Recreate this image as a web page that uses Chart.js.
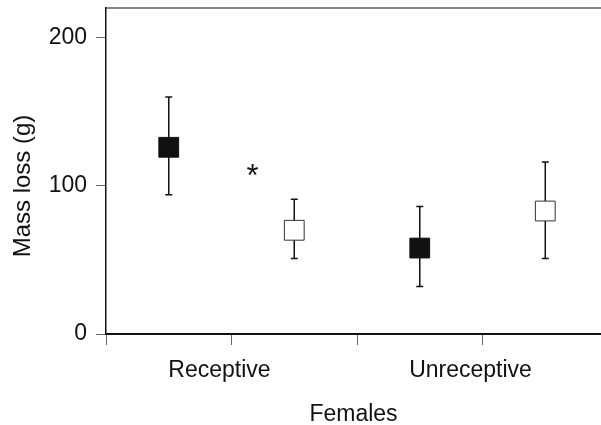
<!DOCTYPE html>
<html>
<head>
<meta charset="utf-8">
<script src="https://cdn.jsdelivr.net/npm/chart.js@4/dist/chart.umd.min.js"></script>
<style>
  html, body { margin: 0; padding: 0; background: #fff; }
  #wrap { width: 601px; height: 425px; position: relative; }
</style>
</head>
<body>
<div id="wrap"><canvas id="massChart" width="601" height="425"></canvas></div>
<script>
const categories = ["Receptive", "Unreceptive"];
// filled squares
const filledMean = [126, 58];
const filledLow = [94, 32];
const filledHigh = [160, 86];
// open squares
const openMean = [70, 83];
const openLow = [51, 51];
const openHigh = [91, 116];
const yTicks = [0, 100, 200];
const xTicks = [0, 1, 2, 3];
const sigMark = { text: "*", x: 1.167, y: 112 };

const FONT = "'Liberation Sans', Arial, Helvetica, sans-serif";
const ink = "#111";

const toPoints = (means, lo, hi, shift) =>
  means.map((m, i) => ({ x: i * 2 + shift, y: m, lo: lo[i], hi: hi[i] }));

const errorBars = {
  id: "errorBars",
  beforeDatasetsDraw(chart) {
    const { ctx, scales: { x, y } } = chart;
    ctx.save();
    ctx.strokeStyle = ink;
    ctx.lineWidth = 1.5;
    chart.data.datasets.forEach((ds) => {
      ds.data.forEach((p) => {
        const px = x.getPixelForValue(p.x);
        const top = y.getPixelForValue(p.hi);
        const bot = y.getPixelForValue(p.lo);
        ctx.beginPath();
        ctx.moveTo(px, top);
        ctx.lineTo(px, bot);
        ctx.moveTo(px - 3.5, top);
        ctx.lineTo(px + 3.5, top);
        ctx.moveTo(px - 3.5, bot);
        ctx.lineTo(px + 3.5, bot);
        ctx.stroke();
      });
    });
    ctx.restore();
  },
  afterDraw(chart) {
    const { ctx, chartArea, scales: { x, y } } = chart;
    ctx.save();
    // top frame line
    ctx.strokeStyle = ink;
    ctx.lineWidth = 1.2;
    ctx.beginPath();
    ctx.moveTo(chartArea.left, chartArea.top);
    ctx.lineTo(chartArea.right, chartArea.top);
    ctx.stroke();
    // significance mark
    ctx.fillStyle = ink;
    ctx.font = "31px " + FONT;
    ctx.textAlign = "center";
    ctx.textBaseline = "alphabetic";
    ctx.fillText(sigMark.text, x.getPixelForValue(sigMark.x), y.getPixelForValue(sigMark.y) + 18);
    // y axis title
    ctx.font = "24px " + FONT;
    ctx.textBaseline = "middle";
    ctx.translate(23, 186);
    ctx.rotate(-Math.PI / 2);
    ctx.fillText("Mass loss (g)", 0, 0);
    ctx.restore();
  }
};

new Chart(document.getElementById("massChart"), {
  type: "scatter",
  data: {
    datasets: [
      {
        data: toPoints(filledMean, filledLow, filledHigh, 0.5),
        pointStyle: "rect",
        pointRadius: 14,
        backgroundColor: ink,
        borderColor: ink,
        borderWidth: 1
      },
      {
        data: toPoints(openMean, openLow, openHigh, 1.5),
        pointStyle: "rect",
        pointRadius: 14,
        backgroundColor: "#fff",
        borderColor: "#333",
        borderWidth: 1
      }
    ]
  },
  options: {
    responsive: false,
    animation: false,
    layout: { autoPadding: false, padding: { top: 8, right: 0, left: 0, bottom: 0 } },
    plugins: { legend: { display: false }, tooltip: { enabled: false } },
    scales: {
      x: {
        type: "linear",
        min: 0,
        max: 3.944,
        afterBuildTicks: (scale) => { scale.ticks = xTicks.map((v) => ({ value: v })); },
        afterFit: (scale) => { scale.height = 91; scale.paddingLeft = 0; scale.paddingRight = 0; },
        border: { display: true, color: ink, width: 2 },
        grid: { drawOnChartArea: false, drawTicks: true, tickLength: 11, tickColor: "#666", tickWidth: 1 },
        ticks: {
          autoSkip: false,
          maxRotation: 0,
          padding: 12,
          labelOffset: -12,
          color: ink,
          font: { family: FONT, size: 23 },
          callback: (v) => (v === 1 ? categories[0] : v === 3 ? categories[1] : "")
        },
        title: {
          display: true,
          text: "Females",
          color: ink,
          font: { family: FONT, size: 23 },
          padding: { top: 0, bottom: -3 }
        }
      },
      y: {
        min: 0,
        max: 220,
        afterBuildTicks: (scale) => { scale.ticks = yTicks.map((v) => ({ value: v })); },
        afterFit: (scale) => { scale.width = 106; scale.paddingTop = 0; scale.paddingBottom = 0; },
        border: { display: true, color: ink, width: 1.5 },
        grid: { drawOnChartArea: false, drawTicks: true, tickLength: 10, tickColor: "#666", tickWidth: 1 },
        ticks: {
          padding: 9,
          color: ink,
          font: { family: FONT, size: 23 }
        }
      }
    }
  },
  plugins: [errorBars]
});
</script>
</body>
</html>
